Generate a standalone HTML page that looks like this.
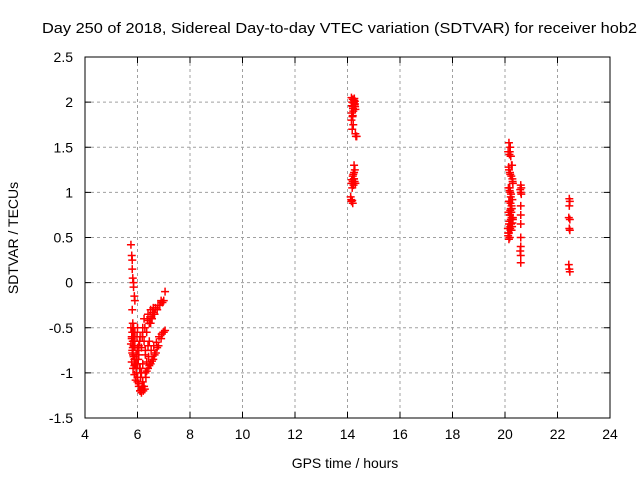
<!DOCTYPE html>
<html><head><meta charset="utf-8"><style>body{margin:0;background:#fff}svg{display:block;font-family:"Liberation Sans",sans-serif}</style></head>
<body>
<svg id="chart" width="640" height="480" viewBox="0 0 640 480" xmlns="http://www.w3.org/2000/svg">
<rect width="640" height="480" fill="#fff"/>
<text x="42" y="33" font-size="15" textLength="595" lengthAdjust="spacingAndGlyphs">Day 250 of 2018, Sidereal Day-to-day VTEC variation (SDTVAR) for receiver hob2</text>
<text x="345" y="468" font-size="14" text-anchor="middle">GPS time / hours</text>
<text transform="translate(18,238) rotate(-90)" font-size="14" text-anchor="middle">SDTVAR / TECUs</text>
<g id="grid"></g><g id="axes"></g><g id="marks"></g>
</svg>
<script>
const xTicks=[4,6,8,10,12,14,16,18,20,22,24];
const yTicks=[2.5,2,1.5,1,0.5,0,-0.5,-1,-1.5];
const yTickLabels=["2.5","2","1.5","1","0.5","0","-0.5","-1","-1.5"];
const times=[5.75,5.78,5.8,5.8,5.82,5.85,5.85,5.88,5.9,5.8,5.82,5.85,5.8,5.78,5.82,5.85,5.8,5.83,5.88,5.9,5.95,5.95,6.0,6.0,6.05,6.1,
5.95,6.05,6.15,6.25,6.35,6.45,6.55,6.65,6.75,6.85,6.95,7.0,7.05,
6.1,6.15,6.2,6.3,6.4,6.5,6.6,6.7,6.8,6.9,7.0,7.05,
6.0,6.1,6.2,6.3,6.4,6.45,6.5,6.6,5.9,6.0,6.05,6.1,6.2,6.25,6.15,6.2,6.3,
5.75,5.78,5.82,5.85,5.88,5.9,5.75,5.8,5.85,5.9,5.95,5.78,5.83,5.88,5.93,5.98,6.0,6.03,6.08,6.12,6.18,6.22,6.28,6.05,6.1,6.15,6.25,6.32,
6.0,6.08,6.18,6.28,6.38,6.48,6.58,6.68,6.78,6.9,6.4,6.5,6.6,6.45,6.55,6.35,6.42,6.52,6.62,6.72,6.82,6.92,6.98,6.35,6.45,6.55,6.65,6.75,
14.15,14.18,14.2,14.22,14.25,14.28,14.3,14.2,14.15,14.22,14.18,14.3,14.32,14.35,
14.25,14.28,14.22,14.25,14.2,14.3,14.15,14.18,14.12,14.15,14.2,
14.2,14.24,14.27,14.17,14.21,14.26,14.16,14.23,14.28,14.19,14.29,14.24,14.27,14.16,14.2,14.23,14.25,14.14,14.18,
20.15,20.2,20.18,20.22,20.25,20.15,20.2,20.28,20.3,20.18,20.2,20.22,20.15,20.25,20.2,20.18,20.22,20.15,20.2,20.25,20.12,20.18,20.15,20.2,20.3,20.22,
20.12,20.17,20.22,20.27,20.14,20.19,20.24,20.29,20.13,20.18,20.23,20.28,20.16,20.21,20.26,20.13,20.19,20.25,20.17,20.23,20.11,20.15,20.21,20.27,20.3,20.24,20.12,20.28,
20.6,20.62,20.6,20.6,20.6,20.6,20.6,20.58,20.6,20.6,20.58,20.62,20.6,
22.45,22.47,22.45,22.43,22.47,22.45,22.47,22.43,22.45,22.47];
const values=[0.42,0.3,0.25,0.15,0.05,0,-0.05,-0.15,-0.2,-0.3,-0.45,-0.5,-0.55,-0.6,-0.65,-0.7,-0.75,-0.8,-0.85,-0.9,-0.95,-1.0,-1.05,-1.1,-1.15,-1.2,
-0.85,-0.8,-0.72,-0.65,-0.55,-0.45,-0.4,-0.35,-0.3,-0.25,-0.22,-0.2,-0.1,
-1.2,-1.18,-1.1,-1.0,-0.95,-0.9,-0.85,-0.78,-0.7,-0.62,-0.55,-0.53,
-0.9,-0.95,-0.9,-0.8,-0.7,-0.65,-0.45,-0.35,-0.6,-0.5,-0.7,-0.6,-0.5,-0.4,-1.0,-0.55,-0.75,
-0.5,-0.62,-0.72,-0.82,-0.92,-0.55,-0.68,-0.78,-0.6,-0.7,-0.8,-0.88,-0.95,-1.02,-1.08,-0.6,-0.75,-0.85,-0.95,-1.05,-1.15,-1.2,-1.18,-1.12,-1.2,-1.22,-1.15,-1.05,
-0.72,-0.65,-0.6,-0.5,-0.42,-0.38,-0.33,-0.28,-0.25,-0.2,-0.35,-0.3,-0.28,-0.45,-0.4,-0.88,-0.82,-0.75,-0.7,-0.66,-0.6,-0.57,-0.55,-0.98,-0.92,-0.87,-0.8,-0.72,
2.05,2.0,1.95,1.9,2.02,1.98,1.92,1.85,1.8,1.75,1.7,1.65,1.62,1.62,
1.3,1.25,1.2,1.15,1.12,1.1,1.1,1.05,0.95,0.9,0.88,
2.03,2.0,1.97,1.96,1.93,2.04,1.88,1.99,2.01,1.84,1.95,1.15,1.12,1.14,1.18,1.08,1.22,0.92,0.91,
1.55,1.5,1.45,1.4,1.3,1.25,1.2,1.15,1.1,1.05,1.0,0.95,0.9,0.85,0.8,0.75,0.7,0.65,0.6,0.58,0.55,0.5,0.48,0.62,0.72,0.82,
1.45,1.42,1.4,1.3,1.28,1.22,1.18,1.12,1.05,1.02,0.98,0.92,0.9,0.88,0.82,0.78,0.75,0.72,0.68,0.65,0.6,0.55,0.58,0.62,0.7,0.78,0.52,0.66,
1.08,1.05,1.0,0.85,0.75,0.65,0.5,0.35,0.3,0.22,1.03,0.98,0.4,
0.93,0.9,0.85,0.72,0.7,0.6,0.58,0.2,0.15,0.12];
const L=85,R=610,T=57,B=418,xmin=4,xmax=24,ymin=-1.5,ymax=2.5;
const sx=v=>L+(v-xmin)/(xmax-xmin)*(R-L);
const sy=v=>B-(v-ymin)/(ymax-ymin)*(B-T);
const NS="http://www.w3.org/2000/svg";
function mk(tag,parent,attrs){const e=document.createElementNS(NS,tag);for(const k in attrs)e.setAttribute(k,attrs[k]);parent.appendChild(e);return e;}
const grid=document.getElementById('grid'),axes=document.getElementById('axes'),marks=document.getElementById('marks');
xTicks.forEach((t,i)=>{const x=sx(t);
 if(i>0&&i<xTicks.length-1){const g=mk('line',grid,{x1:x,x2:x,y1:T,y2:B,stroke:'#a0a0a0','stroke-dasharray':'3,3'});
 
 }
 mk('line',axes,{x1:x,x2:x,y1:B,y2:B-6,stroke:'#000'});mk('line',axes,{x1:x,x2:x,y1:T,y2:T+6,stroke:'#000'});
 const tx=mk('text',axes,{x:x,y:B+21,'font-size':14,'text-anchor':'middle'});tx.textContent=t;
 
 });
yTicks.forEach((t,i)=>{const y=sy(t);
 if(i>0&&i<yTicks.length-1){const g=mk('line',grid,{x1:L,x2:R,y1:y,y2:y,stroke:'#a0a0a0','stroke-dasharray':'3,3'});
 
 }
 mk('line',axes,{x1:L,x2:L+6,y1:y,y2:y,stroke:'#000'});mk('line',axes,{x1:R,x2:R-6,y1:y,y2:y,stroke:'#000'});
 const tx=mk('text',axes,{x:L-12,y:y+5,'font-size':14,'text-anchor':'end'});tx.textContent=yTickLabels[i];
 
 });
const frame=mk('rect',axes,{x:L,y:T,width:R-L,height:B-T,fill:'none',stroke:'#000'});


times.forEach((t,i)=>{const x=sx(t),y=sy(values[i]);
 const p=mk('path',marks,{d:`M${x-4},${y}H${x+4}M${x},${y-4}V${y+4}`,stroke:'#f00','stroke-width':1.5,fill:'none'});
 
 });
</script>
</body></html>
